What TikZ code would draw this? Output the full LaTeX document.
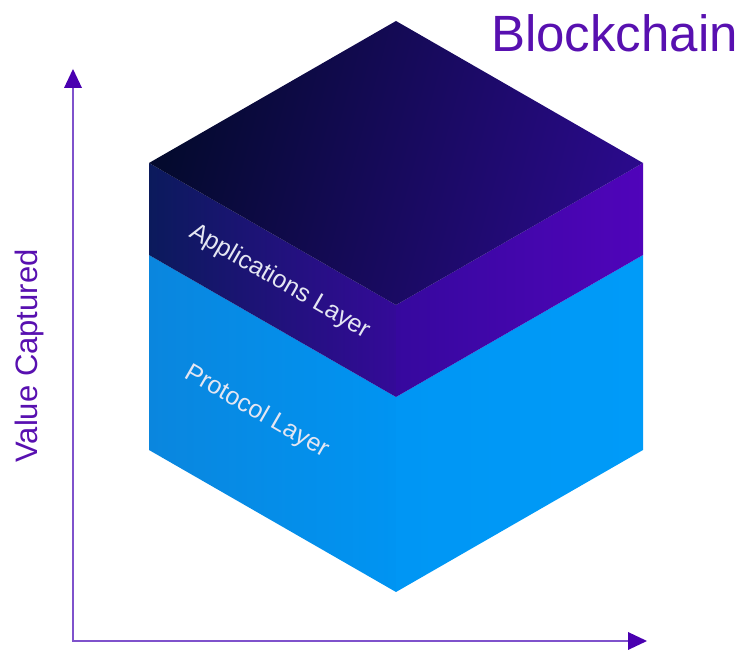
\documentclass[tikz,border=0pt]{standalone}
\usepackage{fontspec}
\setmainfont{Liberation Sans}
\definecolor{topA}{HTML}{040A2E}
\definecolor{topM}{HTML}{0F0A4C}
\definecolor{topB}{HTML}{2A0A8A}
\definecolor{appLA}{HTML}{0B1A5C}
\definecolor{appLB}{HTML}{340A98}
\definecolor{appRA}{HTML}{36089E}
\definecolor{appRB}{HTML}{5004BA}
\definecolor{proLA}{HTML}{0A86DE}
\definecolor{proLB}{HTML}{0094F2}
\definecolor{proRA}{HTML}{0096F4}
\definecolor{proRB}{HTML}{009BF8}
\definecolor{axisline}{HTML}{7F52CC}
\definecolor{axishead}{HTML}{4A00B0}
\definecolor{titlecol}{HTML}{5810B0}
\definecolor{labelcol}{HTML}{E4E6F2}
\tikzset{
  axisstroke/.style={draw=axisline, line width=1.6pt},
  headfill/.style={fill=axishead},
  layerlabel/.style={text=labelcol, font=\fontsize{25}{25}\selectfont, rotate=-30, inner sep=0pt},
}
\begin{document}
\begin{tikzpicture}[x=1pt,y=1pt]
\useasboundingbox (0,0) rectangle (745,650);
% cube vertices
\coordinate (T) at (396,629);
\coordinate (L1) at (149,487);
\coordinate (R1) at (643,487);
\coordinate (C1) at (396,345);
\coordinate (L2) at (149,395);
\coordinate (R2) at (643,395);
\coordinate (C2) at (396,253);
\coordinate (L3) at (149,200);
\coordinate (R3) at (643,200);
\coordinate (C3) at (396,58);
% protocol layer
\shade[left color=proLA, right color=proLB] (L2) -- (C2) -- (C3) -- (L3) -- cycle;
\shade[left color=proRA, right color=proRB] (C2) -- (R2) -- (R3) -- (C3) -- cycle;
% applications layer
\shade[left color=appLA, right color=appLB] (L1) -- (C1) -- (C2) -- (L2) -- cycle;
\shade[left color=appRA, right color=appRB] (C1) -- (R1) -- (R2) -- (C2) -- cycle;
% top face
\shade[left color=topA, middle color=topM, right color=topB, shading angle=75] (T) -- (R1) -- (C1) -- (L1) -- cycle;
% labels
\node[layerlabel] (app) at (280,368) {Applications Layer};
\node[layerlabel] (pro) at (257,238) {Protocol Layer};
\node[text=titlecol, font=\fontsize{51}{51}\selectfont, anchor=base west, inner sep=0pt] (title) at (491,598) {Blockchain};
\node[text=titlecol, font=\fontsize{31}{31}\selectfont, rotate=90, inner sep=0pt] (ylab) at (29,294) {Value Captured};
% axes
\coordinate (O) at (73,9);
\coordinate (Ytop) at (73,563);
\coordinate (Xend) at (629,9);
\draw[axisstroke] (Ytop) -- (O) -- (Xend);
\coordinate (Ytip) at (73,581);
\coordinate (Yb1) at (64,562);
\coordinate (Yb2) at (82,562);
\fill[headfill] (Ytip) -- (Yb1) -- (Yb2) -- cycle;
\coordinate (Xtip) at (647,9);
\coordinate (Xb1) at (628,18);
\coordinate (Xb2) at (628,0);
\fill[headfill] (Xtip) -- (Xb1) -- (Xb2) -- cycle;
\end{tikzpicture}
\end{document}
